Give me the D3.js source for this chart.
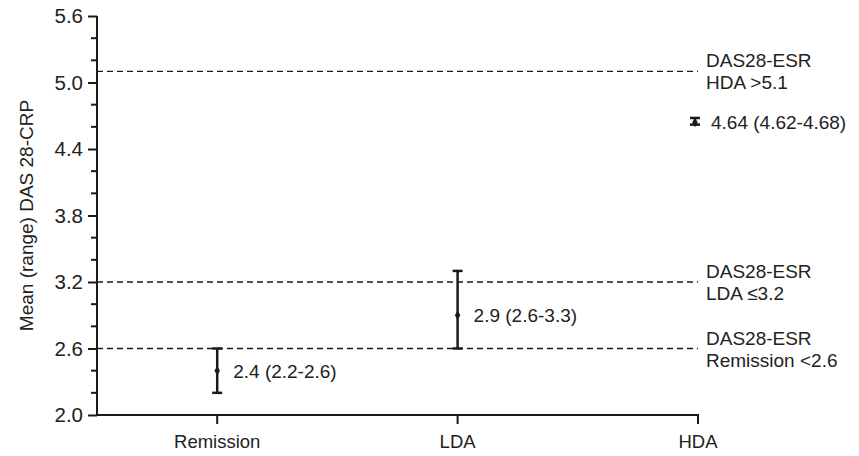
<!DOCTYPE html>
<html><head><meta charset="utf-8">
<script src="https://cdn.jsdelivr.net/npm/d3@7"></script>
<style>body{margin:0;background:#fff}svg{display:block}text{font-family:"Liberation Sans",Arial,sans-serif;fill:#222}</style>
</head><body><svg id="c" width="859" height="456"></svg>
<script>
const categories = ["Remission","LDA","HDA"];
const means = [2.4, 2.9, 4.64];
const lows = [2.2, 2.6, 4.62];
const highs = [2.6, 3.3, 4.68];
const pointLabels = ["2.4 (2.2-2.6)","2.9 (2.6-3.3)","4.64 (4.62-4.68)"];
const refValues = [5.1, 3.2, 2.6];
const refLabels = [["DAS28-ESR","HDA >5.1"],["DAS28-ESR","LDA ≤3.2"],["DAS28-ESR","Remission <2.6"]];
const yMajor = [2.0, 2.6, 3.2, 3.8, 4.4, 5.0, 5.6];
const yMinor = [2.2,2.4,2.8,3.0,3.4,3.6,4.0,4.2,4.6,4.8,5.2,5.4];

const svg = d3.select("#c");
const x0 = 97, x1 = 698, yTop = 16, yBot = 415;
const FS = 19;
const y = d3.scaleLinear().domain([2.0, 5.6]).range([yBot, yTop]);
const x = d3.scaleLinear().domain([-0.5, 2]).range([x0, x1]);
const col = "#1a1a1a";

// reference lines
refValues.forEach((v,i)=>{
  svg.append("line").attr("x1",x0).attr("x2",x1).attr("y1",y(v)).attr("y2",y(v))
    .attr("stroke",col).attr("stroke-width",1.4).attr("stroke-dasharray","6,4");
  const t = svg.append("text").attr("x",706).attr("font-size",FS);
  t.append("tspan").attr("x",706).attr("y",y(v)-4).text(refLabels[i][0]);
  t.append("tspan").attr("x",706).attr("y",y(v)+18).text(refLabels[i][1]);
});

// y axis
const yAxis = d3.axisLeft(y).tickValues(yMajor).tickFormat(d3.format(".1f")).tickSize(9).tickPadding(5);
const gy = svg.append("g").attr("transform",`translate(${x0},0)`).call(yAxis);
gy.selectAll("text").attr("font-size",20.5).style("fill","#222").attr("font-family","Liberation Sans, Arial, sans-serif");
gy.selectAll("line,path").attr("stroke",col).attr("stroke-width",2);
gy.select(".domain").attr("d",`M0,${yTop}V${yBot}`);
const gm = svg.append("g").attr("transform",`translate(${x0},0)`);
gm.selectAll("line").data(yMinor).join("line").attr("x1",-6).attr("x2",0)
  .attr("y1",d=>y(d)).attr("y2",d=>y(d)).attr("stroke",col).attr("stroke-width",2);

// x axis
const gx = svg.append("g").attr("transform",`translate(0,${yBot})`);
gx.append("line").attr("x1",x0-1).attr("x2",x1+1).attr("stroke",col).attr("stroke-width",2);
categories.forEach((c,i)=>{
  gx.append("line").attr("x1",x(i)).attr("x2",x(i)).attr("y1",0).attr("y2",9).attr("stroke",col).attr("stroke-width",2);
  gx.append("text").attr("x",x(i)).attr("y",33).attr("text-anchor","middle").attr("font-size",FS-0.5).text(c);
});

// y label
svg.append("text").attr("transform",`translate(33,${(yTop+yBot)/2}) rotate(-90)`)
  .attr("text-anchor","middle").attr("font-size",FS).text("Mean (range) DAS 28-CRP");

// error bars
categories.forEach((c,i)=>{
  const cx = x(i) - (i===2?3:0);
  svg.append("line").attr("x1",cx).attr("x2",cx).attr("y1",y(lows[i])).attr("y2",y(highs[i]))
    .attr("stroke",col).attr("stroke-width",2.5);
  [lows[i],highs[i]].forEach(v=>svg.append("line").attr("x1",cx-5).attr("x2",cx+5).attr("y1",y(v)).attr("y2",y(v))
    .attr("stroke",col).attr("stroke-width",2.5));
  svg.append("path").attr("d",d3.symbol(d3.symbolDiamond,26)()).attr("transform",`translate(${cx},${y(means[i])})`).attr("fill",col);
  svg.append("text").attr("x",cx+16).attr("y",y(means[i])+7).attr("font-size",FS).text(pointLabels[i]);
});
</script></body></html>
